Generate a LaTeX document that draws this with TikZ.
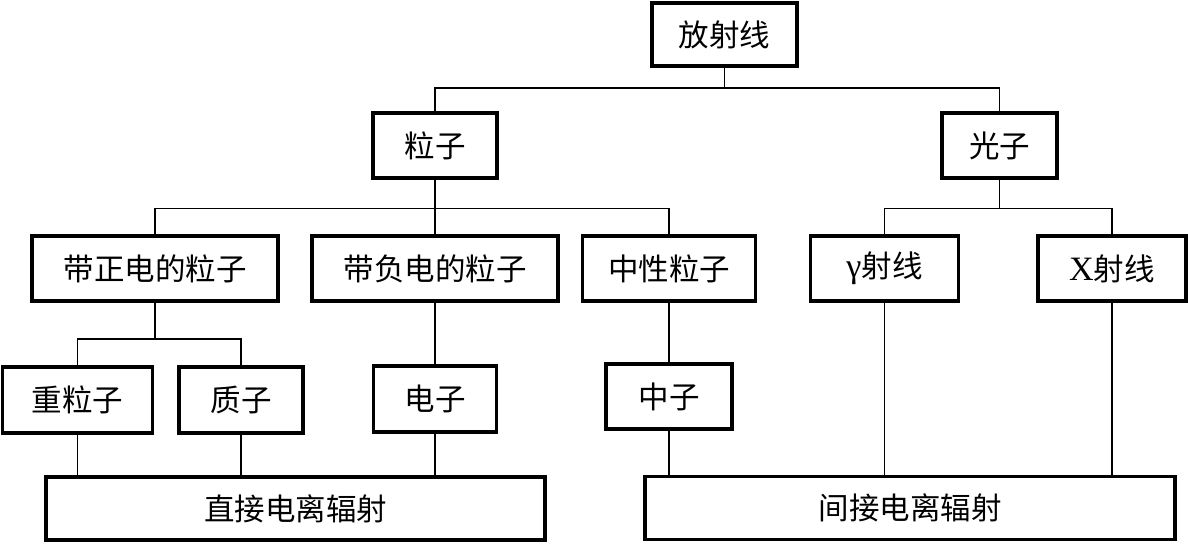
\documentclass[tikz,border=0pt]{standalone}
\usepackage{fontspec}
\setmainfont{Noto Sans CJK SC}
\newfontfamily\latfont[Scale=1.12]{Liberation Serif}
\usetikzlibrary{calc}
\begin{document}
\begin{tikzpicture}[x=1pt,y=-1pt,
  box/.style={draw,line width=3.2pt,rectangle,inner sep=0pt,fill=white,
    font=\fontsize{30.5}{36}\selectfont},
  conn/.style={line width=1.6pt}]
\useasboundingbox (0,0) rectangle (1188,545);
% junction points
\coordinate (j0) at (724.5,88);
\coordinate (j1) at (435,208.5);
\coordinate (j2) at (999.5,208.5);
\coordinate (j3) at (155,339);
% boxes
\node[box,minimum width=145pt,minimum height=63pt] (top) at (724.5,34.5) {放射线};
\node[box,minimum width=124pt,minimum height=65pt] (p1) at (435,145.5) {粒子};
\node[box,minimum width=115pt,minimum height=65pt] (p2) at (999.5,145.5) {光子};
\node[box,minimum width=246pt,minimum height=65pt] (c1) at (155,268.5) {带正电的粒子};
\node[box,minimum width=246pt,minimum height=65pt] (c2) at (435,268.5) {带负电的粒子};
\node[box,minimum width=173pt,minimum height=65pt] (c3) at (669,268.5) {中性粒子};
\node[box,minimum width=148pt,minimum height=65pt] (c4) at (884.5,268.5) {{\latfont γ}射线};
\node[box,minimum width=148pt,minimum height=65pt] (c5) at (1112,268.5) {{\latfont X}射线};
\node[box,minimum width=150pt,minimum height=66pt] (d1) at (77.5,400) {重粒子};
\node[box,minimum width=124pt,minimum height=66pt] (d2) at (241,400) {质子};
\node[box,minimum width=123pt,minimum height=66pt] (d3) at (435,399) {电子};
\node[box,minimum width=126pt,minimum height=65pt] (d4) at (669,396.5) {中子};
\node[box,minimum width=499pt,minimum height=63pt] (e1) at (295.5,508.5) {直接电离辐射};
\node[box,minimum width=530pt,minimum height=63pt] (e2) at (910,508) {间接电离辐射};
% lines
\draw[conn] (top.south) -- (j0);
\draw[conn] (p1.north) |- (j0) -| (p2.north);
\draw[conn] (p1.south) -- (j1);
\draw[conn] (c1.north) |- (j1) -| (c3.north);
\draw[conn] (j1) -- (c2.north);
\draw[conn] (p2.south) -- (j2);
\draw[conn] (c4.north) |- (j2) -| (c5.north);
\draw[conn] (c1.south) -- (j3);
\draw[conn] (d1.north) |- (j3) -| (d2.north);
\draw[conn] (c2.south) -- (d3.north);
\draw[conn] (c3.south) -- (d4.north);
\draw[conn] (d1.south) -- (d1.south |- e1.north);
\draw[conn] (d2.south) -- (d2.south |- e1.north);
\draw[conn] (d3.south) -- (d3.south |- e1.north);
\draw[conn] (d4.south) -- (d4.south |- e2.north);
\draw[conn] (c4.south) -- (c4.south |- e2.north);
\draw[conn] (c5.south) -- (c5.south |- e2.north);
\end{tikzpicture}
\end{document}
